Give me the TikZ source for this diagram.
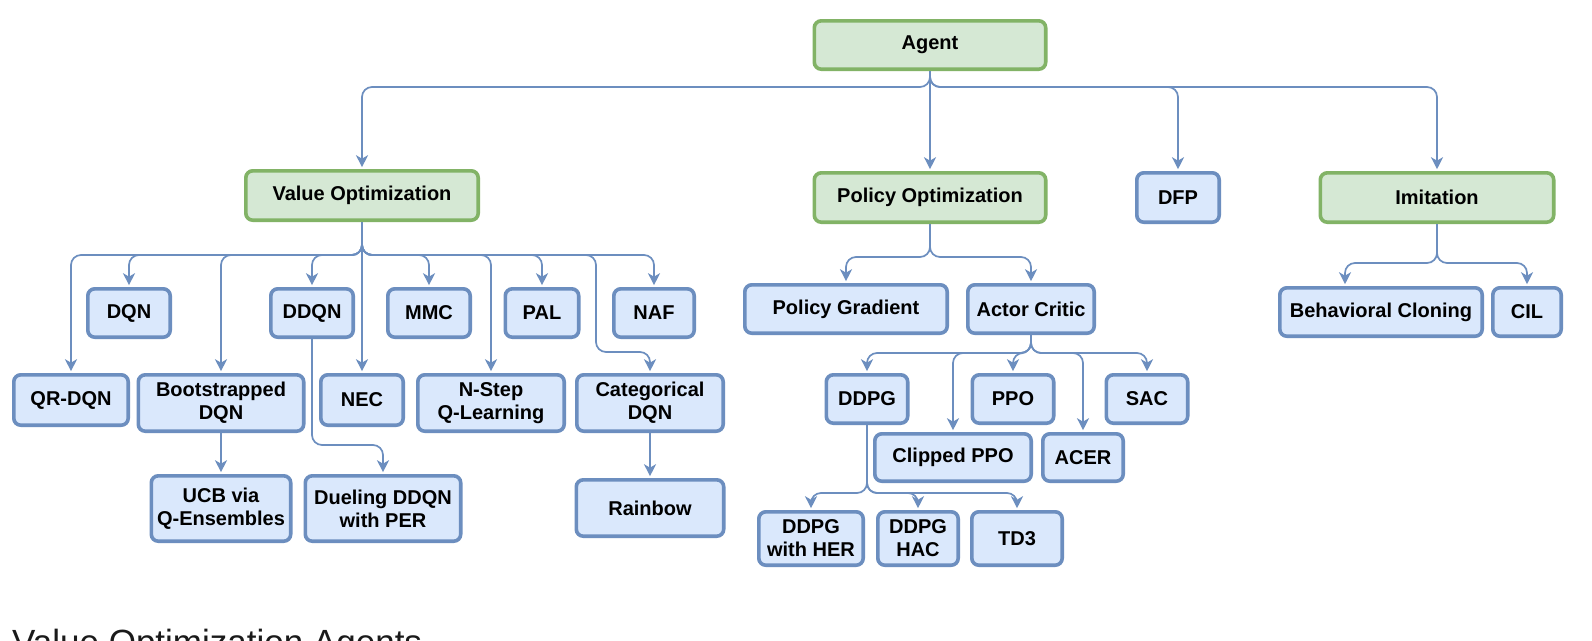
\documentclass[tikz,border=0pt]{standalone}
\usepackage{fontspec}
\setmainfont{Liberation Sans}
\usetikzlibrary{arrows.meta}
\definecolor{bfill}{HTML}{DAE8FC}
\definecolor{bdraw}{HTML}{6C8EBF}
\definecolor{gfill}{HTML}{D5E8D4}
\definecolor{gdraw}{HTML}{82B366}
\definecolor{edgec}{HTML}{6C8EBF}
\definecolor{headc}{HTML}{1A1A1A}
\begin{document}
\begin{tikzpicture}[x=1pt,y=-1pt,
  box/.style={line width=3.6pt, rounded corners=7pt, align=center, inner sep=0pt,
    font=\bfseries\fontsize{20}{23}\selectfont, text=black},
  bbox/.style={box, draw=bdraw, fill=bfill},
  gbox/.style={box, draw=gdraw, fill=gfill},
  sz/.style 2 args={minimum width=#1pt-3.6pt, minimum height=#2pt-3.6pt},
  edge/.style={draw=edgec, line width=1.7pt, rounded corners=10pt,
    -{Stealth[length=12pt,width=12pt,inset=3.5pt]}, shorten >=1.8pt}]
\path[use as bounding box] (0,0) rectangle (1592,640);
\clip (0,0) rectangle (1592,640);
\fill[white] (0,0) rectangle (1592,640);

% top levels
\node[gbox, sz={235}{52}] (Agent) at (930,45) {Agent};
\node[gbox, sz={236}{53}] (VO) at (362,195.5) {Value Optimization};
\node[gbox, sz={235}{53}] (PO) at (930,197.5) {Policy Optimization};
\node[bbox, sz={86}{53}] (DFP) at (1178,197.5) {DFP};
\node[gbox, sz={237}{53}] (IM) at (1437,197.5) {Imitation};

% value optimization
\node[bbox, sz={86}{52}] (DQN) at (129,313) {DQN};
\node[bbox, sz={86}{52}] (DDQN) at (312,313) {DDQN};
\node[bbox, sz={86}{52}] (MMC) at (429,313) {MMC};
\node[bbox, sz={77}{52}] (PAL) at (542,313) {PAL};
\node[bbox, sz={84}{52}] (NAF) at (654,313) {NAF};
\node[bbox, sz={118}{54}] (QR) at (71,400) {QR-DQN};
\node[bbox, sz={169}{60}] (BOOT) at (221,403) {Bootstrapped\\DQN};
\node[bbox, sz={86}{54}] (NEC) at (362,400) {NEC};
\node[bbox, sz={150}{60}] (NSTEP) at (491,403) {N-Step\\Q-Learning};
\node[bbox, sz={150}{60}] (CAT) at (650,403) {Categorical\\DQN};
\node[bbox, sz={143}{69}] (UCB) at (221,508.5) {UCB via\\Q-Ensembles};
\node[bbox, sz={159}{69}] (DUEL) at (383,508.5) {Dueling DDQN\\with PER};
\node[bbox, sz={151}{60}] (RAIN) at (650,508) {Rainbow};

% policy optimization
\node[bbox, sz={206}{52}] (PG) at (846,309) {Policy Gradient};
\node[bbox, sz={130}{52}] (AC) at (1031,309) {Actor Critic};
\node[bbox, sz={85}{52}] (DDPG) at (867,399) {DDPG};
\node[bbox, sz={85}{52}] (PPO) at (1013,399) {PPO};
\node[bbox, sz={85}{52}] (SAC) at (1147,399) {SAC};
\node[bbox, sz={160}{51}] (CPPO) at (953,457.5) {Clipped PPO};
\node[bbox, sz={84}{51}] (ACER) at (1083,457.5) {ACER};
\node[bbox, sz={108}{57}] (HER) at (811,538.5) {DDPG\\with HER};
\node[bbox, sz={84}{57}] (HAC) at (918,538.5) {DDPG\\HAC};
\node[bbox, sz={94}{57}] (TD3) at (1017,538.5) {TD3};

% imitation
\node[bbox, sz={206}{52}] (BC) at (1381,312) {Behavioral Cloning};
\node[bbox, sz={72}{52}] (CIL) at (1527,312) {CIL};

% heading (cut by the lower edge, as in the source)
\node[anchor=base west, inner sep=0pt, text=headc, font=\fontsize{35}{40}\selectfont] (heading) at (12,654) {Value Optimization Agents};

% bus levels
\coordinate (busA) at (0,87);
\coordinate (busV) at (0,255);
\coordinate (busP) at (0,257);
\coordinate (busI) at (0,263);
\coordinate (busC) at (0,353);
\coordinate (busG) at (0,493);
\coordinate (busD) at (0,445);
\coordinate (catbend) at (596,352);

% agent edges
\draw[edge] (Agent.south) -- (Agent.south |- busA) -| (VO.north);
\draw[edge] (Agent.south) -- (PO.north);
\draw[edge] (Agent.south) -- (Agent.south |- busA) -| (DFP.north);
\draw[edge] (Agent.south) -- (Agent.south |- busA) -| (IM.north);

% value optimization edges
\foreach \c in {DQN,DDQN,MMC,PAL,NAF,QR,BOOT,NSTEP}
  \draw[edge] (VO.south) -- (VO.south |- busV) -| (\c.north);
\draw[edge] (VO.south) -- (NEC.north);
\draw[edge] (VO.south) -- (VO.south |- busV) -| (catbend) -| (CAT.north);
\draw[edge] (BOOT.south) -- (UCB.north);
\draw[edge] (DDQN.south) -- (DDQN.south |- busD) -| (DUEL.north);
\draw[edge] (CAT.south) -- (RAIN.north);

% policy optimization edges
\draw[edge] (PO.south) -- (PO.south |- busP) -| (PG.north);
\draw[edge] (PO.south) -- (PO.south |- busP) -| (AC.north);
\foreach \c in {DDPG,PPO,SAC,CPPO,ACER}
  \draw[edge] (AC.south) -- (AC.south |- busC) -| (\c.north);
\foreach \c in {HER,HAC,TD3}
  \draw[edge] (DDPG.south) -- (DDPG.south |- busG) -| (\c.north);

% imitation edges
\draw[edge] (IM.south) -- (IM.south |- busI) -| ([xshift=-36pt]BC.north);
\draw[edge] (IM.south) -- (IM.south |- busI) -| (CIL.north);
\end{tikzpicture}
\end{document}
